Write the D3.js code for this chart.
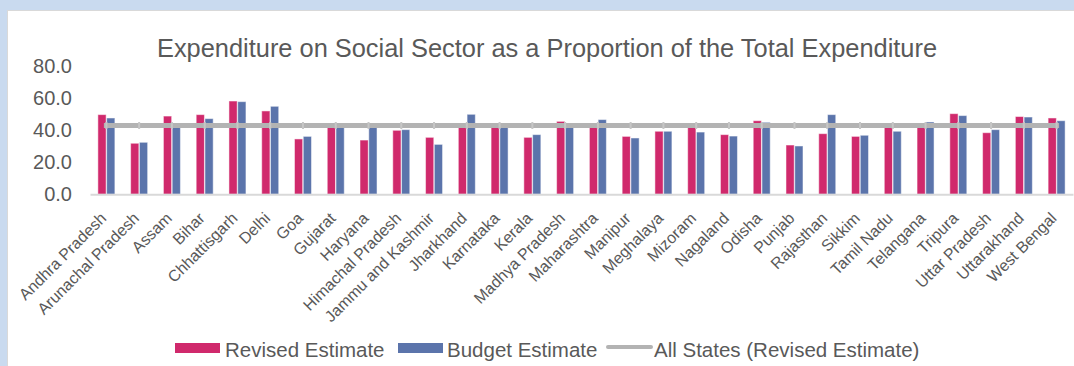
<!DOCTYPE html>
<html>
<head>
<meta charset="utf-8">
<script src="https://cdn.jsdelivr.net/npm/d3@7"></script>
<style>
  html, body { margin: 0; padding: 0; background: #c9daef; }
  svg { display: block; font-family: "Liberation Sans", Arial, sans-serif; }
</style>
</head>
<body>
<div id="chart"></div>
<script>
var states = ["Andhra Pradesh", "Arunachal Pradesh", "Assam", "Bihar", "Chhattisgarh", "Delhi", "Goa",
  "Gujarat", "Haryana", "Himachal Pradesh", "Jammu and Kashmir", "Jharkhand", "Karnataka", "Kerala",
  "Madhya Pradesh", "Maharashtra", "Manipur", "Meghalaya", "Mizoram", "Nagaland", "Odisha", "Punjab",
  "Rajasthan", "Sikkim", "Tamil Nadu", "Telangana", "Tripura", "Uttar Pradesh", "Uttarakhand", "West Bengal"];

var revised = [49.8, 31.9, 48.9, 49.8, 58.3, 52.1, 34.6, 42.5, 33.9, 40.0, 35.6, 44.4, 43.0, 35.6, 45.6,
  43.0, 36.2, 39.4, 42.5, 37.3, 46.0, 30.8, 37.9, 36.2, 42.5, 42.5, 50.4, 38.5, 48.6, 47.7];

var budget = [47.7, 32.5, 44.4, 47.3, 57.9, 55.0, 36.2, 42.0, 42.8, 40.4, 31.2, 50.0, 42.5, 37.3, 43.0,
  46.7, 35.2, 39.4, 38.9, 36.4, 45.0, 30.2, 49.8, 36.9, 39.4, 45.2, 49.2, 40.4, 48.3, 46.0];

var allStatesRE = 43.0;

var yTicks = [0, 20, 40, 60, 80];

var W = 1074, H = 366;
var pink = "#d0296c", blue = "#5b74ab", grey = "#b3b3b3", textCol = "#595959";

var svg = d3.select("#chart").append("svg").attr("width", W).attr("height", H);

// white panel
svg.append("rect").attr("x", 7.5).attr("y", 10.5).attr("width", W).attr("height", H)
  .attr("fill", "#fff").attr("stroke", "#d9d9d9");

var x0 = d3.scaleBand().domain(states).range([90, 1073]);
var x1 = d3.scaleBand().domain(["re", "be"]).range([0, 17]).paddingInner(0.06);
var y = d3.scaleLinear().domain([0, 80]).range([194.3, 66.3]);

// title
svg.append("text").attr("x", 547).attr("y", 57).attr("text-anchor", "middle")
  .attr("font-size", 25.4).attr("fill", textCol)
  .text("Expenditure on Social Sector as a Proportion of the Total Expenditure");

// y axis
var yAxis = svg.append("g").attr("transform", "translate(90,0)")
  .call(d3.axisLeft(y).tickValues(yTicks).tickFormat(d3.format(".1f")).tickSize(0).tickPadding(18));
yAxis.select(".domain").remove();
yAxis.selectAll("text").attr("font-size", 20).attr("fill", textCol).attr("font-family", "Liberation Sans, Arial");

// bars
var rows = states.map(function (s, i) { return { s: s, re: revised[i], be: budget[i] }; });
var cols = { re: pink, be: blue };

var grp = svg.append("g").selectAll("g").data(rows).join("g")
  .attr("transform", function (d) { return "translate(" + (x0(d.s) + x0.bandwidth() / 2 - 8.5) + ",0)"; });

grp.selectAll("rect").data(function (d) { return ["re", "be"].map(function (k) { return { k: k, v: d[k] }; }); })
  .join("rect")
  .attr("x", function (d) { return x1(d.k); })
  .attr("width", x1.bandwidth())
  .attr("y", function (d) { return y(d.v); })
  .attr("height", function (d) { return y(0) - y(d.v); })
  .attr("fill", function (d) { return cols[d.k]; })
  .attr("stroke", "#fff").attr("stroke-opacity", 0.5).attr("stroke-width", 1);

// x axis
var xAxis = svg.append("g").attr("transform", "translate(0," + y(0) + ")")
  .call(d3.axisBottom(x0).tickSize(0));
xAxis.select(".domain").attr("stroke", "#d9d9d9").attr("stroke-width", 2);
xAxis.selectAll("text")
  .attr("font-size", 16).attr("fill", textCol).attr("font-family", "Liberation Sans, Arial")
  .attr("text-anchor", "end").attr("y", 0).attr("dy", 0)
  .attr("transform", "translate(1,25) rotate(-45)");

// all states line
var line = d3.line().x(function (s) { return x0(s) + x0.bandwidth() / 2; }).y(function () { return y(allStatesRE); });
svg.append("path").datum(states).attr("d", line)
  .attr("fill", "none").attr("stroke", grey).attr("stroke-width", 5).attr("stroke-linecap", "square");
svg.append("g").selectAll("rect").data(states).join("rect")
  .attr("x", function (s) { return x0(s) + x0.bandwidth() / 2 - 1; })
  .attr("y", y(allStatesRE) - 3.5).attr("width", 2).attr("height", 7)
  .attr("fill", "#c6c6c6");

// legend
var lg = svg.append("g").attr("font-size", 20.5).attr("fill", textCol);
lg.append("rect").attr("x", 175).attr("y", 343).attr("width", 45).attr("height", 10).attr("fill", pink);
lg.append("text").attr("x", 225).attr("y", 357).text("Revised Estimate");
lg.append("rect").attr("x", 398).attr("y", 343).attr("width", 45).attr("height", 10).attr("fill", blue);
lg.append("text").attr("x", 447).attr("y", 357).text("Budget Estimate");
lg.append("line").attr("x1", 608).attr("x2", 651).attr("y1", 347).attr("y2", 347)
  .attr("stroke", grey).attr("stroke-width", 4).attr("stroke-linecap", "round");
lg.append("text").attr("x", 654).attr("y", 357).text("All States (Revised Estimate)");
</script>
</body>
</html>
